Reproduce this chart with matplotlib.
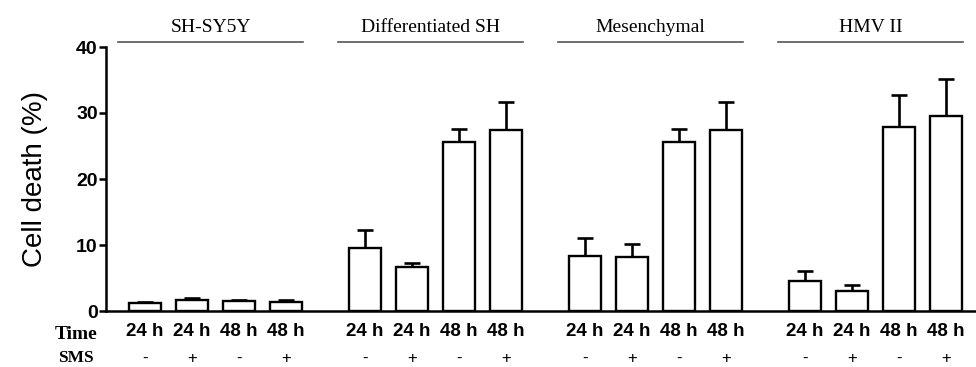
import matplotlib
matplotlib.use("Agg")
import matplotlib.pyplot as plt
import numpy as np

# values
groups = ["SH-SY5Y", "Differentiated SH", "Mesenchymal", "HMV II"]
time_labels = ["24 h", "24 h", "48 h", "48 h"]
sms_labels = ["-", "+", "-", "+"]

sh_sy5y = [1.2, 1.65, 1.45, 1.35]
diff_sh = [9.5, 6.7, 25.6, 27.4]
mesench = [8.4, 8.2, 25.6, 27.4]
hmv2 = [4.6, 3.1, 27.9, 29.5]

sh_sy5y_err = [0.15, 0.35, 0.25, 0.3]
diff_sh_err = [2.7, 0.5, 1.9, 4.2]
mesench_err = [2.7, 2.0, 1.9, 4.2]
hmv2_err = [1.5, 0.9, 4.8, 5.7]

means = [sh_sy5y, diff_sh, mesench, hmv2]
errs = [sh_sy5y_err, diff_sh_err, mesench_err, hmv2_err]

sans = "Liberation Sans"
serif = "Liberation Serif"

fig = plt.figure(figsize=(9.76, 3.67), dpi=100)
ax = fig.add_axes([106 / 976, 56 / 367, 870 / 976, 264 / 367])

group_step = 4.68
bar_w = 0.68

for g, name in enumerate(groups):
    x = g * group_step + np.arange(4)
    ax.bar(x, means[g], width=bar_w, color="white", edgecolor="black",
           linewidth=1.7, zorder=3)
    ax.errorbar(x, means[g], yerr=[np.zeros(4), errs[g]], fmt="none",
                ecolor="black", elinewidth=1.9, capsize=5.5, capthick=1.9,
                zorder=2)
    # group header line + title
    xc = x.mean() - 0.1
    ax.plot([xc - 1.97, xc + 1.97], [40.75, 40.75], color="#555555",
            linewidth=1.2, clip_on=False)
    ax.text(xc, 41.6, name, ha="center", va="bottom", fontsize=14,
            family=serif, clip_on=False)
    for i in range(4):
        ax.text(x[i], -3.1, time_labels[i], ha="center", va="center",
                fontsize=13.5, fontweight="bold", family=sans, clip_on=False)
        ax.text(x[i], -7.2, sms_labels[i], ha="center", va="center",
                fontsize=12, family=sans, clip_on=False)

ax.text(-1.47, -3.5, "Time", ha="center", va="center", fontsize=14,
        fontweight="bold", family=serif, clip_on=False)
ax.text(-1.47, -7.1, "SMS", ha="center", va="center", fontsize=12.5,
        fontweight="bold", family=serif, clip_on=False)

ax.set_xlim(-0.83, 17.68)
ax.set_ylim(0, 40)
ax.set_yticks([0, 10, 20, 30, 40])
ax.set_xticks([])
for lab in ax.get_yticklabels():
    lab.set_fontweight("bold")
    lab.set_family(sans)
ax.tick_params(axis="y", labelsize=14, width=1.8, length=5, pad=1)
ax.spines["top"].set_visible(False)
ax.spines["right"].set_visible(False)
ax.spines["left"].set_linewidth(1.8)
ax.spines["bottom"].set_linewidth(1.8)
ax.set_ylabel("Cell death (%)", fontsize=20, family=sans, labelpad=20)

fig.savefig("out.png", dpi=100)
